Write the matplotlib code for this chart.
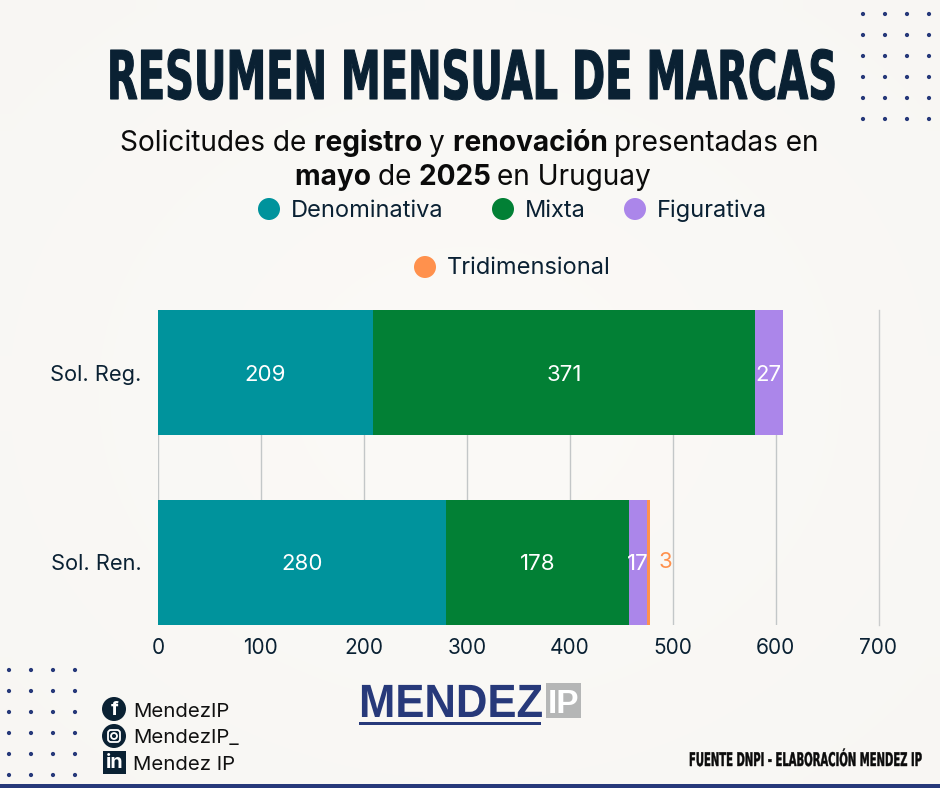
from matplotlib import pyplot as plt
from matplotlib.patches import Circle, FancyBboxPatch, Rectangle
from matplotlib.patheffects import AbstractPathEffect
from matplotlib.transforms import Affine2D
import numpy as np

# datos
categorias = ["Sol. Reg.", "Sol. Ren."]
denominativa = [209, 280]
mixta = [371, 178]
figurativa = [27, 17]
tridimensional = [0, 3]
ticks_x = [0, 100, 200, 300, 400, 500, 600, 700]

titulo = "RESUMEN MENSUAL DE MARCAS"
fuente = "FUENTE DNPI - ELABORACIÓN MENDEZ IP"
redes = ["MendezIP", "MendezIP_", "Mendez IP"]

OSCURO = "#0a2133"
AZUL = "#27397a"
TEAL = "#00939c"
VERDE = "#028035"
LILA = "#ab86ea"
NARANJA = "#ff914d"

plt.rcParams['font.family'] = ['Inter', 'DejaVu Sans']


# Estira el texto en vertical, para imitar una fuente condensada tipo Anton
class Estirar(AbstractPathEffect):
    def __init__(self, sy, lw=0.0):
        super().__init__()
        self.sy = sy
        self.lw = lw

    def draw_path(self, renderer, gc, tpath, affine, rgbFace):
        gc0 = renderer.new_gc()
        gc0.copy_properties(gc)
        gc0.set_linewidth(self.lw)
        gc0.set_foreground(rgbFace)
        renderer.draw_path(gc0, tpath, Affine2D().scale(1, self.sy) + affine, rgbFace)
        gc0.restore()


fig = plt.figure(figsize=(9.4, 7.88), dpi=100)

# fondo en pixeles
bg = fig.add_axes([0, 0, 1, 1], zorder=0)
bg.set_xlim(0, 940)
bg.set_ylim(788, 0)
bg.axis('off')

yy, xx = np.mgrid[0:1:40j, 0:1:40j]
dist = np.hypot(xx - 0.5, yy - 0.5) / 0.707
tono = np.dstack([0.985 - 0.012 * dist, 0.98 - 0.013 * dist, 0.968 - 0.013 * dist])
bg.imshow(tono, extent=(0, 940, 788, 0), aspect='auto', interpolation='bilinear', zorder=0)

# puntos decorativos
for x0, y0 in [(863, 14), (9, 670)]:
    for i in range(4):
        for j in range(6):
            bg.add_patch(Circle((x0 + i * 22, y0 + j * 21), 2.1, color=AZUL, lw=0))

bg.add_patch(Rectangle((0, 784), 940, 4, color=AZUL, lw=0))

# titulo
bg.text(107, 99, titulo, family='Liberation Sans Narrow', weight='bold', fontsize=28.8,
        color=OSCURO, ha='left', va='baseline', path_effects=[Estirar(1.68, 0.8)])


# subtitulo con partes en negrita, una pieza detras de la otra
def linea(x, y, partes, size=20.2):
    r = fig.canvas.get_renderer()
    for texto, peso in partes:
        t = bg.text(x, y, texto, fontsize=size, weight=peso, color='#0b0b0b',
                    ha='left', va='baseline')
        x += t.get_window_extent(r).width


linea(120, 151, [("Solicitudes de ", 'normal'), ("registro ", 'bold'), ("y ", 'normal'),
                 ("renovación ", 'bold'), ("presentadas en", 'normal')])
linea(295, 185, [("mayo ", 'bold'), ("de ", 'normal'), ("2025 ", 'bold'), ("en Uruguay", 'normal')])

# leyenda
leyenda = [("Denominativa", TEAL, 269, 209), ("Mixta", VERDE, 503, 209),
           ("Figurativa", LILA, 635, 209), ("Tridimensional", NARANJA, 425, 267)]
for nombre, color, x, y in leyenda:
    bg.add_patch(Circle((x, y), 11, color=color, lw=0))
    bg.text(x + 22, y - 1, nombre, fontsize=17, color=OSCURO, ha='left', va='center_baseline')

# redes
bg.add_patch(Circle((114, 709), 12, color=OSCURO, lw=0))
bg.text(114.5, 710, "f", color='white', fontsize=14, weight='bold', ha='center', va='center')
bg.add_patch(Circle((114, 736), 12, color=OSCURO, lw=0))
bg.add_patch(FancyBboxPatch((108, 730), 12, 12, boxstyle="round,pad=0,rounding_size=3",
                            fc='none', ec='white', lw=1.3))
bg.add_patch(Circle((114, 736), 3, fc='none', ec='white', lw=1.3))
bg.add_patch(Rectangle((103, 751), 23, 23, color=OSCURO, lw=0))
bg.text(114.5, 763, "in", color='white', fontsize=14, weight='bold', ha='center', va='center')
for nombre, y in zip(redes, [710, 736, 763]):
    bg.text(133, y, nombre, fontsize=14.7, color='#111111', ha='left', va='center_baseline')

# logo
bg.text(359, 717, "MENDEZ", family='Liberation Sans', weight='bold', fontsize=31.4,
        color=AZUL, ha='left', va='baseline', path_effects=[Estirar(1.07)])
bg.add_patch(Rectangle((359, 722), 182, 2.5, color=AZUL, lw=0))
bg.add_patch(Rectangle((546, 683), 35, 35, color='#b5b6b6', lw=0))
bg.text(563.5, 713, "IP", family='Liberation Sans', weight='bold', fontsize=24,
        color='white', ha='center', va='baseline')

# fuente
bg.text(689, 766, fuente, family='Liberation Sans Narrow', weight='bold', fontsize=7.23,
        color='#0b0b0b', ha='left', va='baseline', path_effects=[Estirar(1.88, 0.3)])

# grafico
ax = fig.add_axes([158 / 940, 1 - 625 / 788, 720.5 / 940, 315 / 788], zorder=1)
ax.patch.set_alpha(0)

y = np.arange(len(categorias))
izq = np.zeros(len(categorias))
series = [(denominativa, TEAL), (mixta, VERDE), (figurativa, LILA), (tridimensional, NARANJA)]
for valores, color in series:
    barras = ax.barh(y, valores, 0.658, left=izq, color=color, zorder=2)
    etiquetas = [str(v) if v > 0 else '' for v in valores]
    if color == NARANJA:
        ax.bar_label(barras, labels=etiquetas, padding=6, color=NARANJA, fontsize=16)
    else:
        textos = ax.bar_label(barras, labels=etiquetas, label_type='center', color='white', fontsize=16)
        for t in textos:
            t.set_va('center_baseline')
    izq = izq + np.array(valores)

ax.set_xlim(0, 700)
ax.set_ylim(1.329, -0.329)
ax.set_xticks(ticks_x)
ax.set_yticks(y, categorias)
ax.grid(axis='x', color='#c3c7c8', lw=1, zorder=0)
ax.get_xgridlines()[-1].set_color('#cbcdcd')
ax.get_xgridlines()[-1].set_clip_on(False)
ax.set_axisbelow(True)
ax.tick_params(axis='both', length=0, labelcolor=OSCURO)
ax.tick_params(axis='x', pad=9, labelsize=15)
ax.tick_params(axis='y', pad=12, labelsize=15.7)
for s in ax.spines.values():
    s.set_visible(False)

fig.savefig("out.png", dpi=100)
